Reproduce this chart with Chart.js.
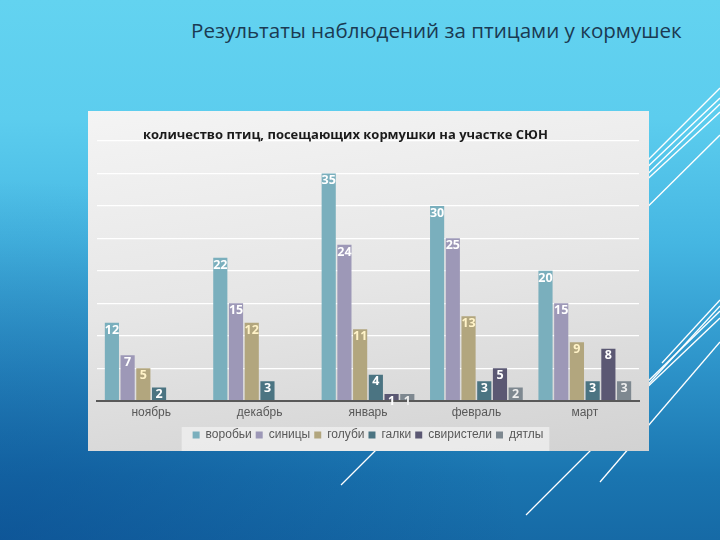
<!DOCTYPE html>
<html><head><meta charset="utf-8">
<script src="https://cdn.jsdelivr.net/npm/chart.js@4.4.1/dist/chart.umd.min.js"></script>
<style>
html,body{margin:0;padding:0;width:720px;height:540px;overflow:hidden;}
#slide{position:relative;width:720px;height:540px;overflow:hidden;
background:
 radial-gradient(ellipse 520px 360px at 0% 100%, rgba(8,70,140,0.55), rgba(8,70,140,0) 100%),
 linear-gradient(to bottom,#63d3f0 0%,#5ccdee 22%,#45b6e2 45%,#2d93c9 68%,#1a75b0 88%,#166aa6 100%);}
#deco{position:absolute;left:0;top:0;}
#stitle{position:absolute;left:191px;top:20px;font-family:"Open Sans","DejaVu Sans",sans-serif;font-weight:400;font-size:18px;line-height:1;color:#1b3a52;white-space:nowrap;}
#panel{position:absolute;left:88px;top:111px;width:561px;height:340px;
background:linear-gradient(172deg,#f4f4f4 0%,#e6e6e6 50%,#d2d2d2 100%);}
canvas{position:absolute;left:0;top:0;}
</style></head>
<body>
<div id="slide">
<svg id="deco" width="720" height="540" viewBox="0 0 720 540">
 <g stroke="#ffffff" stroke-width="1.3" fill="none">
  <line x1="600" y1="208" x2="720" y2="88"/>
  <line x1="600" y1="212" x2="720" y2="98"/>
  <line x1="600" y1="220" x2="720" y2="104"/>
  <line x1="600" y1="223" x2="720" y2="112"/>
  <line x1="600" y1="254" x2="720" y2="135"/>
  <line x1="662" y1="363" x2="720" y2="300"/>
  <line x1="600" y1="437" x2="720" y2="306"/>
  <line x1="600" y1="428" x2="720" y2="311"/>
  <line x1="600" y1="432" x2="720" y2="318"/>
  <line x1="600" y1="482" x2="720" y2="342"/>
  <line x1="341" y1="485" x2="400" y2="426"/>
  <line x1="526" y1="515" x2="600" y2="441"/>
 </g>
</svg>
<div id="stitle">Результаты наблюдений за птицами у кормушек</div>
<div id="panel"><canvas id="c" width="561" height="340"></canvas></div>
</div>
<script>
const categories = ['ноябрь','декабрь','январь','февраль','март'];
const seriesNames = ['воробьи','синицы','голуби','галки','свиристели','дятлы'];
const vorobyi    = [12, 22, 35, 30, 20];
const sinitsy    = [ 7, 15, 24, 25, 15];
const golubi     = [ 5, 12, 11, 13,  9];
const galki      = [ 2,  3,  4,  3,  3];
const sviristeli = [ 0,  0,  1,  5,  8];
const dyatly     = [ 0,  0,  1,  2,  3];
const yMin = 0, yMax = 40, yStep = 5;
const chartTitle = 'количество птиц, посещающих кормушки на участке СЮН';

const seriesValues = [vorobyi, sinitsy, golubi, galki, sviristeli, dyatly];
const colors = ['#7aafbd','#9d98b7','#b2a67e','#4b7482','#5b5873','#7e8890'];
const labelColors = ['#ffffff','#ffffff','#fff3c8','#ffffff','#ffffff','#eeeeee'];
const axisFont = '"Liberation Sans", Arial, sans-serif';

// fit slide title to its width in the reference
(function(){
  const el = document.getElementById('stitle');
  const target = 491;
  const w = el.getBoundingClientRect().width;
  el.style.fontSize = (18 * target / w).toFixed(2) + 'px';
})();

const labelPlugin = {
  id: 'valueLabels',
  afterDatasetsDraw(chart) {
    const ctx = chart.ctx;
    ctx.save();
    ctx.font = 'bold 12.5px "Open Sans", sans-serif';
    ctx.textAlign = 'center';
    ctx.textBaseline = 'top';
    chart.data.datasets.forEach((ds, i) => {
      const meta = chart.getDatasetMeta(i);
      meta.data.forEach((bar, j) => {
        const v = ds.data[j];
        if (!v) return;
        ctx.fillStyle = labelColors[i];
        ctx.fillText(String(v), bar.x, bar.y + 1);
      });
    });
    ctx.restore();
  }
};

const titlePlugin = {
  id: 'panelTitle',
  afterDraw(chart) {
    const ctx = chart.ctx;
    ctx.save();
    let size = 13;
    ctx.font = 'bold ' + size + 'px "Open Sans", sans-serif';
    const w = ctx.measureText(chartTitle).width;
    size = size * 405 / w;
    ctx.font = 'bold ' + size.toFixed(2) + 'px "Open Sans", sans-serif';
    ctx.fillStyle = '#1a1a1a';
    ctx.textAlign = 'left';
    ctx.textBaseline = 'middle';
    ctx.fillText(chartTitle, 55, 24);
    ctx.restore();
  }
};

const legendBgPlugin = {
  id: 'legendBg',
  beforeDraw(chart) {
    const hb = chart.legend && chart.legend.legendHitBoxes;
    if (!hb || !hb.length) return;
    const l = Math.min(...hb.map(b => b.left)) - 11;
    const r = Math.max(...hb.map(b => b.left + b.width)) + 6;
    const t = Math.min(...hb.map(b => b.top)) - 2;
    const ctx = chart.ctx;
    ctx.save();
    ctx.fillStyle = 'rgba(240,240,240,0.75)';
    ctx.fillRect(l, t, r - l, chart.height - t);
    ctx.restore();
  }
};

new Chart(document.getElementById('c'), {
  type: 'bar',
  data: {
    labels: categories,
    datasets: seriesNames.map((n, i) => ({
      label: n,
      data: seriesValues[i],
      backgroundColor: colors[i],
      borderWidth: 0,
      barPercentage: 0.9,
      categoryPercentage: 0.87
    }))
  },
  options: {
    responsive: false,
    animation: false,
    layout: { padding: { top: 30, left: 9, right: 10, bottom: 0 } },
    scales: {
      x: {
        grid: { display: false, drawTicks: false },
        border: { color: '#595959', width: 2 },
        ticks: { color: '#595959', font: { size: 12, family: axisFont }, padding: 5 }
      },
      y: {
        min: yMin, max: yMax,
        ticks: { display: false, stepSize: yStep },
        grid: { color: c => c.tick && c.tick.value === 0 ? 'rgba(0,0,0,0)' : '#ffffff', lineWidth: 1.2, drawTicks: false },
        border: { display: false }
      }
    },
    plugins: {
      legend: {
        position: 'bottom',
        labels: { boxWidth: 7, boxHeight: 7, color: '#595959', font: { size: 12, family: axisFont }, padding: 4 }
      },
      tooltip: { enabled: false },
      title: { display: false }
    }
  },
  plugins: [legendBgPlugin, labelPlugin, titlePlugin]
});
</script>
</body></html>
